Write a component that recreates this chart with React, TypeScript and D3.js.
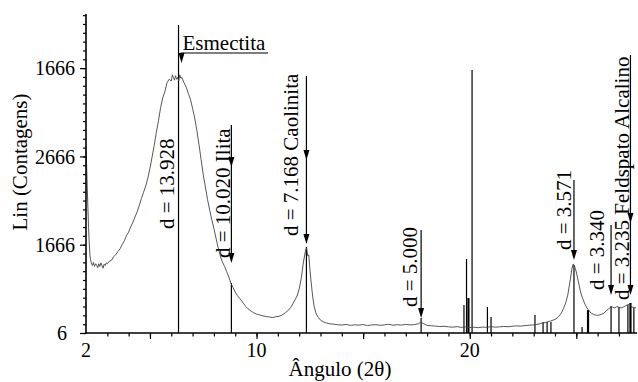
import { useEffect, useRef } from "react"
import * as d3 from "d3"

// diffractogram (2θ in degrees, counts)
const twoTheta = [
  2.0, 2.03, 2.06, 2.09, 2.12, 2.15, 2.18, 2.21, 2.25, 2.3, 2.35, 2.4, 2.45, 2.5, 2.55, 2.6, 2.65, 2.7, 2.75, 2.8,
  2.85, 2.9, 2.95, 3.0, 3.1, 3.2, 3.3, 3.4, 3.5, 3.6, 3.7, 3.8, 3.9, 4.0, 4.1, 4.2, 4.3, 4.4, 4.5, 4.6,
  4.7, 4.8, 4.9, 5.0, 5.1, 5.2, 5.3, 5.4, 5.5, 5.6, 5.7, 5.8, 5.9, 6.0, 6.05, 6.1, 6.15, 6.2, 6.25, 6.3,
  6.35, 6.4, 6.45, 6.5, 6.55, 6.6, 6.7, 6.8, 6.9, 7.0, 7.1, 7.2, 7.3, 7.4, 7.5, 7.6, 7.7, 7.8, 7.9, 8.0,
  8.1, 8.2, 8.3, 8.4, 8.5, 8.6, 8.7, 8.8, 8.9, 9.0, 9.1, 9.2, 9.3, 9.4, 9.5, 9.6, 9.7, 9.8, 9.9, 10.0,
  10.15, 10.3, 10.45, 10.6, 10.75, 10.9, 11.05, 11.2, 11.35, 11.5, 11.6, 11.7, 11.8, 11.9, 12.0, 12.1, 12.2, 12.3, 12.35, 12.4,
  12.45, 12.5, 12.55, 12.6, 12.65, 12.7, 12.8, 12.9, 13.0, 13.15, 13.3, 13.45, 13.6, 13.8, 14.0, 14.2, 14.4, 14.6, 14.8, 15.0,
  15.2, 15.4, 15.6, 15.8, 16.0, 16.2, 16.4, 16.6, 16.8, 17.0, 17.2, 17.4, 17.6, 17.7, 17.8, 18.0, 18.2, 18.4, 18.6, 18.8,
  19.0, 19.2, 19.4, 19.6, 19.8, 20.0, 20.2, 20.4, 20.6, 20.8, 21.0, 21.2, 21.4, 21.6, 21.8, 22.0, 22.2, 22.4, 22.6, 22.8,
  23.0, 23.2, 23.4, 23.6, 23.8, 24.0, 24.1, 24.2, 24.3, 24.4, 24.5, 24.6, 24.7, 24.8, 24.85, 24.9, 25.0, 25.1, 25.2, 25.3,
  25.4, 25.5, 25.6, 25.7, 25.8, 25.9, 26.0, 26.1, 26.2, 26.3, 26.4, 26.5, 26.6, 26.7, 26.8, 26.9, 27.0, 27.1, 27.2, 27.3,
  27.4, 27.5, 27.6, 27.7, 27.8,
]
const counts = [
  2080, 1900, 1650, 1420, 1200, 1040, 900, 840, 800, 770, 805, 760, 790, 775, 745, 790, 760, 800, 770, 740,
  785, 770, 800, 790, 820, 830, 870, 895, 930, 960, 1010, 1050, 1110, 1150, 1210, 1260, 1320, 1380, 1450, 1530,
  1600, 1670, 1760, 1870, 2000, 2130, 2280, 2410, 2560, 2670, 2740, 2840, 2880, 2860, 2930, 2900, 2870, 2920, 2880, 2900,
  2860, 2930, 2890, 2900, 2870, 2840, 2790, 2720, 2650, 2550, 2440, 2300, 2140, 1970, 1800, 1660, 1520, 1400, 1290, 1190,
  1080, 970, 880, 810, 760, 700, 640, 570, 520, 470, 430, 400, 370, 335, 305, 280, 262, 245, 230, 220,
  210, 200, 192, 188, 180, 190, 195, 210, 235, 265, 295, 335, 380, 425, 505, 630, 810, 945, 970, 880,
  890, 740, 610, 490, 390, 310, 220, 180, 152, 130, 118, 110, 106, 100, 96, 104, 92, 99, 95, 102,
  90, 97, 100, 93, 98, 105, 94, 100, 96, 103, 98, 101, 112, 128, 116, 92, 88, 84, 79, 82,
  76, 72, 78, 70, 74, 68, 72, 66, 73, 70, 78, 72, 76, 80, 77, 83, 86, 84, 90, 94,
  98, 105, 118, 128, 142, 160, 176, 200, 232, 285, 346, 436, 584, 742, 787, 776, 697, 584, 470, 395,
  335, 289, 255, 232, 218, 210, 205, 212, 220, 232, 255, 278, 295, 300, 290, 305, 298, 289, 300, 312,
  325, 334, 300, 296, 289,
]

// reference sticks (2θ, top in counts)
const stickTheta = [6.34, 8.82, 12.34, 17.72, 19.73, 19.85, 20.11, 20.83, 21.0, 23.06, 23.44, 23.63, 23.81, 24.89, 25.27, 26.63, 27.0, 27.42, 27.7]
const stickTop = [3494, 572, 980, 176, 323, 844, 2985, 300, 187, 210, 131, 131, 131, 776, 74, 312, 300, 323, 289]
const boldStickTheta = [19.94, 25.55, 27.54]
const boldStickTop = [402, 266, 346]

const yTickValues = [6, 1006, 2006, 3006]
const yTickLabels = ["6", "1666", "2666", "1666"]
const xTickValues = [2, 10, 20]
const xTickLabels = ["2", "10", "20"]

const peakLabels = ["d = 13.928", "d = 10.020 Ilita", "d = 7.168 Caolinita", "d = 5.000", "d = 3.571", "d = 3.340", "d = 3.235 Feldspato Alcalino"]
const peakTheta = [6.34, 8.82, 12.34, 17.72, 24.89, 26.63, 27.54]

// label layout: baseline offset from arrow, text start y, arrow from/heads (px)
const labelLayout = [
  { dx: -5, y: 229, from: null, heads: [] },
  { dx: -1.5, y: 258, from: 125, heads: [167, 263] },
  { dx: -8, y: 236, from: 76, heads: [160, 244] },
  { dx: -4, y: 307, from: 230, heads: [318] },
  { dx: -3, y: 250, from: 180, heads: [260] },
  { dx: -7, y: 290, from: 225, heads: [295] },
  { dx: -1.5, y: 300, from: 55, heads: [223, 295] },
]

const font = "'Liberation Serif', 'Times New Roman', serif"

const App = () => {
  const svgRef = useRef<SVGSVGElement>(null)

  useEffect(() => {
    document.body.style.margin = "0"
    const svg = d3.select(svgRef.current)
    svg.selectAll("*").remove()

    const left = 86
    const right = 637
    const top = 14
    const bottom = 333

    const x = d3.scaleLinear().domain([2, 27.8]).range([left, 636])
    const y = d3.scaleLinear().domain([6, 3619]).range([bottom, top])

    // sticks
    svg.append("g")
      .selectAll("line")
      .data(stickTheta)
      .enter()
      .append("line")
      .attr("x1", (d) => x(d))
      .attr("x2", (d) => x(d))
      .attr("y1", y(6))
      .attr("y2", (d, i) => y(stickTop[i]))
      .attr("stroke", "#000")
      .attr("stroke-width", 1.2)

    svg.append("g")
      .selectAll("line")
      .data(boldStickTheta)
      .enter()
      .append("line")
      .attr("x1", (d) => x(d))
      .attr("x2", (d) => x(d))
      .attr("y1", y(6))
      .attr("y2", (d, i) => y(boldStickTop[i]))
      .attr("stroke", "#000")
      .attr("stroke-width", 2.2)

    // pattern
    const line = d3
      .line<number>()
      .x((d) => x(d))
      .y((d, i) => y(counts[i]))
    svg.append("path")
      .attr("d", line(twoTheta))
      .attr("fill", "none")
      .attr("stroke", "#444")
      .attr("stroke-width", 0.9)

    // axes
    const yMinor = svg.append("g").attr("transform", `translate(${left},0)`)
      .call(d3.axisLeft(y).tickValues(d3.range(6, 3619, 100)).tickSize(3).tickFormat(() => ""))
    const yMajor = svg.append("g").attr("transform", `translate(${left},0)`)
      .call(d3.axisLeft(y).tickValues(yTickValues).tickSize(6).tickPadding(5)
        .tickFormat((d, i) => yTickLabels[i]))
    yMajor.selectAll("text")
      .style("font-family", font)
      .style("font-size", "20px")
      .attr("fill", "#000")
      .attr("dy", "0.33em")
      .attr("x", (d, i) => (i === 0 ? -19 : -11))

    const xMinor = svg.append("g").attr("transform", `translate(0,${bottom})`)
      .call(d3.axisBottom(x).tickValues(d3.range(3, 28, 1)).tickSize(3.5).tickFormat(() => ""))
    const xMajor = svg.append("g").attr("transform", `translate(0,${bottom})`)
      .call(d3.axisBottom(x).tickValues([5, 10, 15, 20, 25]).tickSize(6).tickFormat(() => ""))
    ;[yMinor, yMajor, xMinor, xMajor].forEach((g) => {
      g.select(".domain").remove()
      g.selectAll("line").attr("stroke", "#000").attr("stroke-width", 1.2)
    })

    svg.append("g")
      .selectAll("text")
      .data(xTickValues)
      .enter()
      .append("text")
      .attr("x", (d) => x(d))
      .attr("y", 357)
      .attr("text-anchor", "middle")
      .style("font-family", font)
      .style("font-size", "20px")
      .text((d, i) => xTickLabels[i])

    svg.append("line")
      .attr("x1", left).attr("x2", left).attr("y1", top).attr("y2", bottom + 0.75)
      .attr("stroke", "#000").attr("stroke-width", 1.6)
    svg.append("line")
      .attr("x1", left - 0.8).attr("x2", right).attr("y1", bottom).attr("y2", bottom)
      .attr("stroke", "#000").attr("stroke-width", 1.6)

    svg.append("text")
      .attr("transform", "translate(27,162) rotate(-90)")
      .attr("text-anchor", "middle")
      .style("font-family", font)
      .style("font-size", "21px")
      .text("Lin (Contagens)")

    svg.append("text")
      .attr("x", 340)
      .attr("y", 376)
      .attr("text-anchor", "middle")
      .style("font-family", font)
      .style("font-size", "21px")
      .text("Ângulo (2θ)")

    // annotations
    const ann = svg.append("g")
    const head = (cx: number, tip: number) =>
      ann.append("path")
        .attr("d", `M${cx - 3},${tip - 10}L${cx + 3},${tip - 10}L${cx},${tip}Z`)
        .attr("fill", "#000")

    peakLabels.forEach((label, i) => {
      const cx = x(peakTheta[i])
      const lay = labelLayout[i]
      ann.append("text")
        .attr("transform", `translate(${cx + lay.dx},${lay.y}) rotate(-90)`)
        .style("font-family", font)
        .style("font-size", "21px")
        .text(label)
      if (lay.from !== null) {
        ann.append("line")
          .attr("x1", cx).attr("x2", cx)
          .attr("y1", lay.from).attr("y2", lay.heads[lay.heads.length - 1] - 4)
          .attr("stroke", "#000").attr("stroke-width", 1.2)
        lay.heads.forEach((h) => head(cx, h))
      }
    })

    // Esmectita label
    const ex = x(peakTheta[0]) + 3
    ann.append("text")
      .attr("x", ex + 1)
      .attr("y", 50)
      .style("font-family", font)
      .style("font-size", "21px")
      .text("Esmectita")
    ann.append("line")
      .attr("x1", ex - 1).attr("x2", 268).attr("y1", 53).attr("y2", 53)
      .attr("stroke", "#000").attr("stroke-width", 1.2)
    ann.append("line")
      .attr("x1", ex).attr("x2", ex).attr("y1", 53).attr("y2", 58)
      .attr("stroke", "#000").attr("stroke-width", 1.2)
    head(ex, 63)
  }, [])

  return <svg ref={svgRef} width={638} height={382} style={{ display: "block", background: "#fff" }}></svg>
}

export default App
